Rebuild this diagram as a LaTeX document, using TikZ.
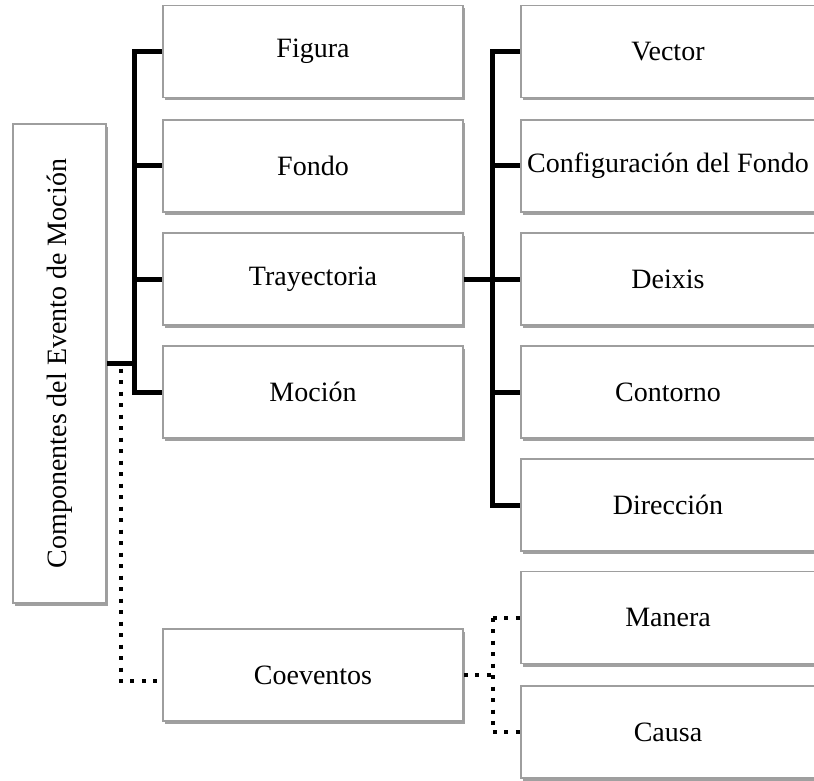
\documentclass[tikz,border=0pt]{standalone}
\usepackage{fontspec}
\setmainfont{Liberation Serif}
\usepackage{graphicx}
\usetikzlibrary{shadows}

\tikzset{
	box/.style={draw=black!38, line width=1.5pt, fill=white, inner sep=0pt,
		font=\fontsize{28}{33}\selectfont,
		drop shadow={shadow xshift=2pt, shadow yshift=-3pt, fill=black!50, opacity=.75}},
	midbox/.style={box, minimum width=300pt, minimum height=92pt},
	subbox/.style={box, minimum width=294pt, minimum height=92pt},
	solidlink/.style={line width=5pt},
	dotlink/.style={line width=4pt, dash pattern=on 4pt off 7.5pt},
}

\begin{document}
\begin{tikzpicture}[x=1pt, y=-1pt]
		\clip (0,0) rectangle (814,781);

		\node [box, minimum width=93pt, minimum height=479pt] (Componentes) at (59.5,363.5) {\rotatebox{90}{Componentes del Evento de Moción}};

		\node [midbox] (Figura) at (313,51.5) {Figura};
		\node [midbox] (Fondo) at (313,166) {Fondo};
		\node [midbox] (Trayectoria) at (313,279) {Trayectoria};
		\node [midbox] (Mocion) at (313,392) {Moción};
		\node [midbox] (Coeventos) at (313,675) {Coeventos};

		\node [subbox] (Vector) at (668,51.5) {Vector};
		\node [subbox] (Configuracion) at (668,166) {Configuración del Fondo};
		\node [subbox] (Deixis) at (668,279) {Deixis};
		\node [subbox] (Contorno) at (668,392) {Contorno};
		\node [subbox] (Direccion) at (668,505) {Dirección};
		\node [subbox] (Manera) at (668,617.5) {Manera};
		\node [subbox] (Causa) at (668,732) {Causa};

		% main components
		\coordinate (MainTrunk) at ([xshift=28pt]Componentes.east);
		\draw [solidlink] (Componentes.east) -- (MainTrunk);
		\draw [solidlink, line cap=rect] (MainTrunk |- Figura.west) -- (MainTrunk |- Mocion.west);
		\foreach \n in {Figura,Fondo,Trayectoria,Mocion}
			\draw [solidlink] (MainTrunk |- \n.west) -- (\n.west);

		% coevents
		\coordinate (SideTrunk) at ([xshift=14pt, yshift=-5pt]Componentes.east);
		\draw [dotlink] (SideTrunk) |- ([yshift=-6pt]Coeventos.west);

		% path components
		\coordinate (PathTrunk) at ([xshift=29pt]Trayectoria.east);
		\draw [solidlink] (Trayectoria.east) -- (PathTrunk);
		\draw [solidlink, line cap=rect] (PathTrunk |- Vector.west) -- (PathTrunk |- Direccion.west);
		\foreach \n in {Vector,Configuracion,Deixis,Contorno,Direccion}
			\draw [solidlink] (PathTrunk |- \n.west) -- (\n.west);

		\coordinate (CoTrunk) at ([xshift=29pt]Coeventos.east);
		\draw [dotlink] (Coeventos.east) -- (CoTrunk);
		\draw [dotlink] (CoTrunk |- Manera.west) -- (CoTrunk |- Causa.west);
		\foreach \n in {Manera,Causa}
			\draw [dotlink] (CoTrunk |- \n.west) -- (\n.west);
	\end{tikzpicture}
\end{document}
